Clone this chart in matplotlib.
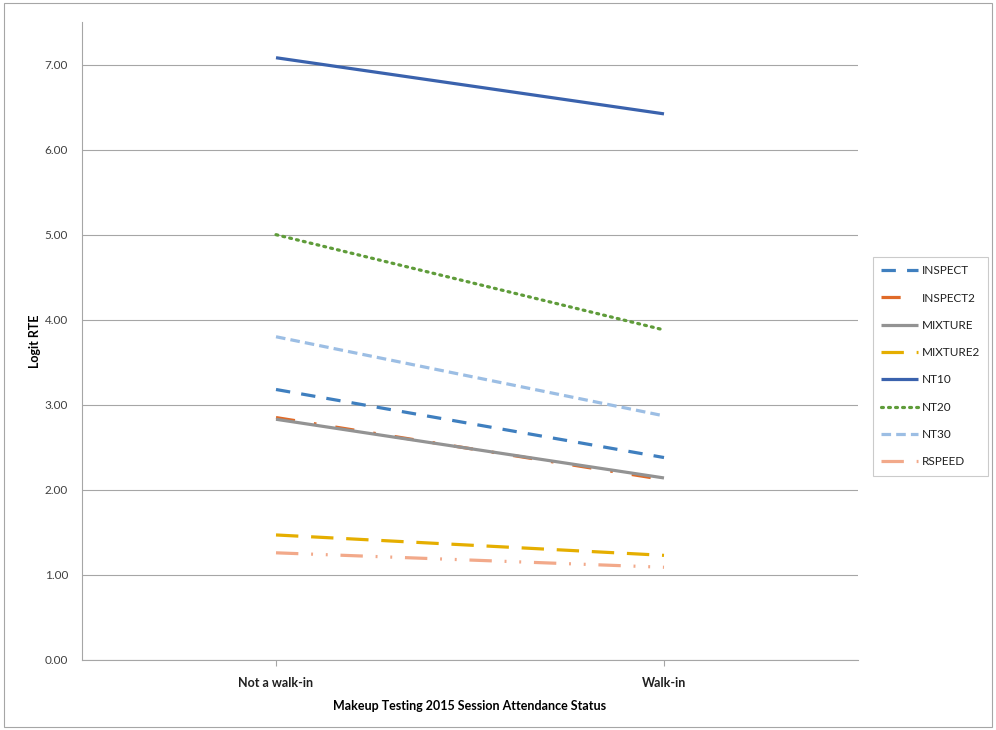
import matplotlib.pyplot as plt
from matplotlib.patches import Rectangle

plt.rcParams['font.family'] = ['Lato', 'DejaVu Sans']

categories = ["Not a walk-in", "Walk-in"]
series_names = ["INSPECT", "INSPECT2", "MIXTURE", "MIXTURE2", "NT10", "NT20", "NT30", "RSPEED"]
inspect = [3.18, 2.38]
inspect2 = [2.85, 2.12]
mixture = [2.83, 2.14]
mixture2 = [1.47, 1.23]
nt10 = [7.08, 6.42]
nt20 = [5.00, 3.88]
nt30 = [3.80, 2.87]
rspeed = [1.26, 1.09]
y_ticks = [0, 1, 2, 3, 4, 5, 6, 7]

values = [inspect, inspect2, mixture, mixture2, nt10, nt20, nt30, rspeed]
colors = ["#3F7FBF", "#E06A28", "#939393", "#E5AE00",
          "#3A62AD", "#5F9C3A", "#9CBEE4", "#F2A98A"]
lw = 2.3
dashes = [(0, (4.5, 3.5)),            # dash
          (0, (6, 6, 0.8, 6)),        # long dash dot
          "solid",
          (0, (7, 4)),                # long dash
          "solid",
          (0, (0.6, 1.6)),            # round dot
          (0, (3, 1.6)),              # short dash
          (0, (7, 4, 0.6, 4, 0.6, 4))]  # long dash dot dot

fig = plt.figure(figsize=(9.96, 7.3), dpi=100)
ax = fig.add_axes([82 / 996, 1 - 660 / 730, (858 - 82) / 996, (660 - 22) / 730])

x = list(range(len(categories)))
for name, vals, c, ls in zip(series_names, values, colors, dashes):
    cap = "round" if name == "NT20" else "butt"
    ax.plot(x, vals, color=c, lw=lw, linestyle=ls, label=name,
            dash_capstyle=cap, solid_capstyle="butt")

ax.set_xlim(-0.5, 1.5)
ax.set_ylim(0, 7.5)
ax.set_yticks(y_ticks)
ax.set_yticklabels([f"{v:.2f}" for v in y_ticks], fontsize=8.5, color="#404040")
ax.set_xticks(x)
ax.set_xticklabels(categories, fontsize=9, fontweight="bold", color="#202020")
ax.tick_params(axis="y", length=0, pad=10)
ax.tick_params(axis="x", length=4, color="#A6A6A6", pad=8)
ax.grid(axis="y", color="#A6A6A6", lw=0.8)
ax.set_axisbelow(True)
for side in ["top", "right"]:
    ax.spines[side].set_visible(False)
for side in ["left", "bottom"]:
    ax.spines[side].set_color("#A6A6A6")
    ax.spines[side].set_linewidth(0.8)

ax.set_ylabel("Logit RTE", fontsize=9, fontweight="bold", labelpad=3)
ax.set_xlabel("Makeup Testing 2015 Session Attendance Status", fontsize=9,
              fontweight="bold", labelpad=8)

leg = ax.legend(loc="upper left", bbox_to_anchor=(873 / 996, 1 - 257 / 730),
                bbox_transform=fig.transFigure, fontsize=8.5, frameon=True,
                fancybox=False, handlelength=3.1, handletextpad=0.3,
                labelspacing=1.38, borderpad=0.7, borderaxespad=0)
leg.get_frame().set_edgecolor("#BFBFBF")
leg.get_frame().set_linewidth(0.8)
for t in leg.get_texts():
    t.set_color("#202020")

# chart area border
fig.patches.append(Rectangle((4 / 996, 3 / 730), 988 / 996, 724 / 730,
                             transform=fig.transFigure, fill=False,
                             edgecolor="#A6A6A6", lw=0.8))

fig.savefig("out.png", dpi=100)
